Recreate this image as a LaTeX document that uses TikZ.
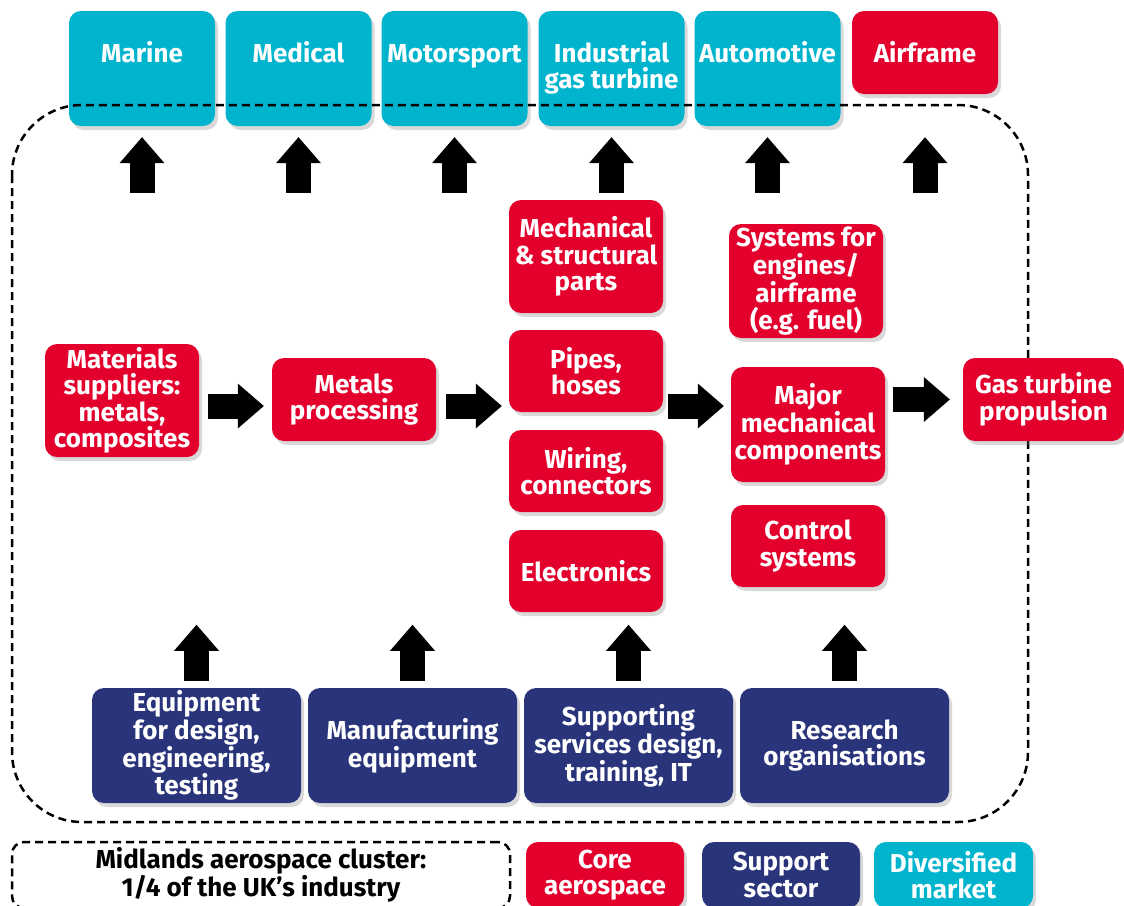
\documentclass[tikz,border=0pt]{standalone}
\usepackage{fontspec}
\setmainfont{Fira Sans}
\usetikzlibrary{arrows.meta,shadows}
\definecolor{corered}{RGB}{227,0,45}
\definecolor{supportblue}{RGB}{41,52,122}
\definecolor{marketcyan}{RGB}{0,180,206}
\begin{document}
\begin{tikzpicture}[x=1pt,y=-1pt,
    boxtext/.style={font=\bfseries\fontsize{26}{26.5}\selectfont,align=center,inner sep=0pt},
    box/.style={boxtext,rounded corners=12pt,text=white,
      drop shadow={opacity=0.3,shadow xshift=3pt,shadow yshift=-4pt}},
    core/.style={box,fill=corered,minimum width=154pt},
    support/.style={box,fill=supportblue,minimum width=209pt,minimum height=115pt},
    market/.style={box,fill=marketcyan,minimum width=146pt,text height=51pt,text depth=64pt},
    fatarrow/.style={line width=25pt,-{Triangle[width=45pt,length=26pt,line width=0pt]}},
    cluster/.style={draw,line width=2.5pt,dash pattern=on 8pt off 5pt}
  ]
  \useasboundingbox (0,0) rectangle (1124,905);

  % diversified markets
  \node[market] (marine) at (142,68.5) {Marine};
  \node[market] (medical) at (298.5,68.5) {Medical};
  \node[market] (motorsport) at (454.5,68.5) {Motorsport};
  \node[market,text height=77.5pt,text depth=37.5pt] (industrial) at (611.5,68.5) {Industrial\\gas turbine};
  \node[market] (automotive) at (767.5,68.5) {Automotive};
  \node[core,minimum width=146pt,minimum height=83pt] (airframe) at (925,52.5) {Airframe};

  \draw[cluster,rounded corners=70pt] (12,105) rectangle (1028,822);

  % core aerospace
  \node[core,minimum height=113pt] (materials) at (122,400.5) {Materials\\suppliers:\\metals,\\composites};
  \node[core,minimum width=164pt,minimum height=83pt] (metals) at (354,399.5) {Metals\\processing};
  \node[core,minimum height=113pt] (mechanical) at (586,256.5) {Mechanical\\\& structural\\parts};
  \node[core,minimum height=82pt] (pipes) at (586,371) {Pipes,\\hoses};
  \node[core,minimum height=82pt] (wiring) at (586,471) {Wiring,\\connectors};
  \node[core,minimum height=82pt] (electronics) at (586,571) {Electronics};
  \node[core,minimum height=114pt] (systems) at (806,281) {Systems for\\engines/\\airframe\\(e.g. fuel)};
  \node[core,minimum height=115pt] (major) at (808,424.5) {Major\\mechanical\\components};
  \node[core,minimum height=82pt] (control) at (808,546) {Control\\systems};
  \node[core,minimum width=161pt,minimum height=83pt] (gasturbine) at (1043.5,399.5) {Gas turbine\\propulsion};

  % support sector
  \node[support] (equipment) at (196.5,745.5) {Equipment\\for design,\\engineering,\\testing};
  \node[support] (manufacturing) at (412.5,745.5) {Manufacturing\\equipment};
  \node[support] (supporting) at (628.5,745.5) {Supporting\\services design,\\training, IT};
  \node[support] (research) at (844.5,745.5) {Research\\organisations};

  % arrows
  \foreach \m/\len/\gap in {marine/67/11,medical/67/11,motorsport/67/11,industrial/67/11,automotive/67/11,airframe/99/43}{
    \path (\m.south) ++(0,\len) coordinate (\m tail);
    \draw[fatarrow,shorten >=\gap pt] (\m tail) -- (\m.south);
  }
  \foreach \s in {equipment,manufacturing,supporting,research}{
    \path (\s.north) ++(0,-63) coordinate (\s tip);
    \draw[fatarrow,shorten <=7pt] (\s.north) -- (\s tip);
  }
  \coordinate (row) at (0,406);
  \draw[fatarrow,shorten <=9pt,shorten >=8pt] (materials.east |- row) -- (metals.west |- row);
  \draw[fatarrow,shorten <=10pt,shorten >=7pt] (metals.east |- row) -- (pipes.west |- row);
  \draw[fatarrow,shorten <=5pt,shorten >=7pt] (pipes.east |- row) -- (major.west |- row);
  \draw[fatarrow,shorten <=8pt,shorten >=13pt] (major.east |- gasturbine.west) -- (gasturbine.west);

  % key
  \node[boxtext,cluster,rounded corners=12pt,minimum width=498pt,minimum height=66pt] (clusterkey) at (261,875)
    {Midlands aerospace cluster:\\1/4 of the UK’s industry};
  \node[core,minimum width=158pt,minimum height=66pt] (corekey) at (605,875) {Core\\aerospace};
  \node[support,minimum width=158pt,minimum height=66pt] (supportkey) at (781,875) {Support\\sector};
  \node[box,fill=marketcyan,minimum width=159pt,minimum height=66pt] (marketkey) at (953.5,875) {Diversified\\market};
\end{tikzpicture}
\end{document}
